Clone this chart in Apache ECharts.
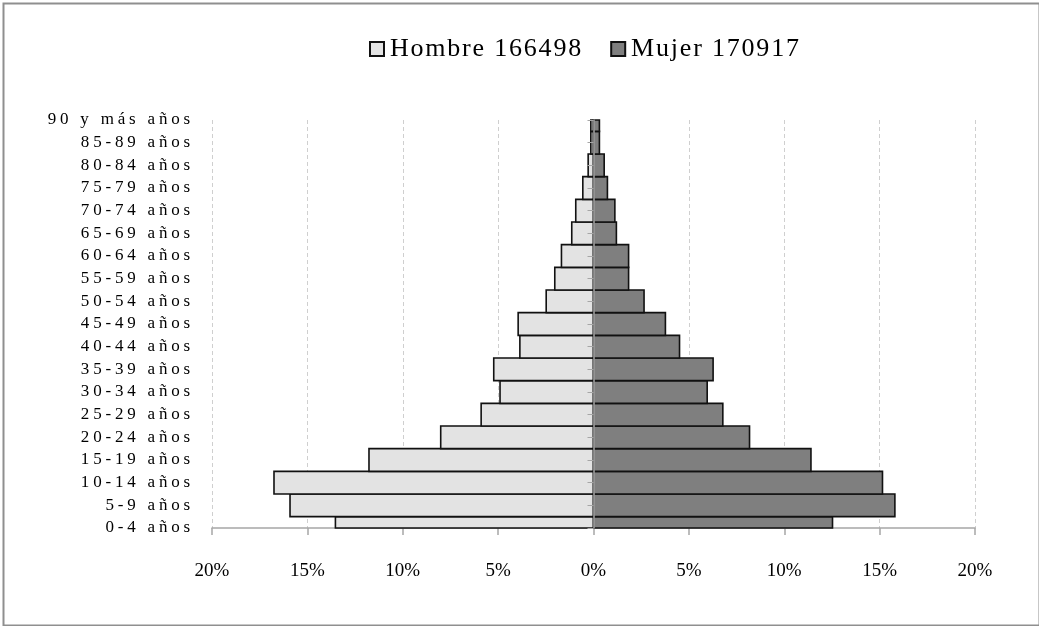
<!DOCTYPE html>
<html>
<head>
<meta charset="utf-8">
<script src="https://cdn.jsdelivr.net/npm/echarts@6/dist/echarts.min.js"></script>
<style>
  html, body { margin: 0; padding: 0; background: #fff; }
  #chart { width: 1039px; height: 626px; }
</style>
</head>
<body>
<div id="chart"></div>
<script>
// Age groups, youngest first (drawn bottom to top)
const ageGroups = [
  '0-4 años', '5-9 años', '10-14 años', '15-19 años', '20-24 años',
  '25-29 años', '30-34 años', '35-39 años', '40-44 años', '45-49 años',
  '50-54 años', '55-59 años', '60-64 años', '65-69 años', '70-74 años',
  '75-79 años', '80-84 años', '85-89 años', '90 y más años'
];

// Share of each sex's population per age group (%)
const hombrePct = [13.53, 15.91, 16.75, 11.77, 8.01, 5.89, 4.90, 5.23, 3.86, 3.95,
                   2.48, 2.03, 1.68, 1.14, 0.93, 0.56, 0.28, 0.14, 0.14];
const mujerPct  = [12.53, 15.80, 15.15, 11.40, 8.18, 6.78, 5.96, 6.27, 4.51, 3.77,
                   2.65, 1.84, 1.84, 1.20, 1.12, 0.73, 0.56, 0.31, 0.31];

const seriesNames = ['Hombre 166498', 'Mujer 170917'];

// Percentage axis range and step
const axisMin = -20;
const axisMax = 20;
const axisStep = 5;

// Wrap each character in a rich-text token so a per-character spacing style can be applied
function spaced(text, style) {
  return text.split('').map(function (c) { return '{' + style + '|' + c + '}'; }).join('');
}

const serif = '"Liberation Serif", "Times New Roman", serif';

// Horizontal bar centred on its category tick, clipped to the plot area
function renderPyramidBar(params, api) {
  const value = api.value(0);
  const idx = api.value(1);
  const start = api.coord([0, idx]);
  const end = api.coord([value, idx]);
  const h = api.size([0, 1])[1];
  const rect = echarts.graphic.clipRectByRect({
    x: Math.min(start[0], end[0]),
    y: start[1] - h / 2,
    width: Math.abs(end[0] - start[0]),
    height: h
  }, {
    x: params.coordSys.x,
    y: params.coordSys.y,
    width: params.coordSys.width,
    height: params.coordSys.height
  });
  if (!rect) return null;
  const style = api.style();
  return {
    type: 'rect',
    shape: rect,
    style: { fill: style.fill, stroke: '#111', lineWidth: 1.6 }
  };
}

const chart = echarts.init(document.getElementById('chart'), null, { renderer: 'canvas' });

chart.setOption({
  backgroundColor: '#ffffff',
  animation: false,
  graphic: [{
    type: 'rect',
    left: 1, top: 1,
    shape: { width: 1036, height: 622 },
    style: { fill: 'none', stroke: '#8f8f8f', lineWidth: 2 },
    silent: true
  }],
  legend: {
    left: 364,
    top: 31,
    itemWidth: 14,
    itemHeight: 14,
    itemGap: 29,
    icon: 'rect',
    data: seriesNames,
    formatter: function (name) { return spaced(name, 'l'); },
    textStyle: {
      color: '#000',
      fontFamily: serif,
      fontSize: 26,
      rich: {
        l: { fontFamily: serif, fontSize: 26, color: '#000', padding: [0, 0.9] }
      }
    }
  },
  grid: {
    left: 212,
    right: 64,
    top: 120,
    bottom: 98,
    containLabel: false
  },
  xAxis: {
    type: 'value',
    min: axisMin,
    max: axisMax,
    interval: axisStep,
    axisLine: { show: true, onZero: false, lineStyle: { color: '#a6a6a6', width: 1.5 } },
    axisTick: { show: true, length: 7, lineStyle: { color: '#a6a6a6', width: 1.5 } },
    splitLine: { show: true, lineStyle: { color: '#cfcfcf', type: [4, 3], width: 1 } },
    axisLabel: {
      margin: 34,
      color: '#000',
      fontFamily: serif,
      fontSize: 19,
      formatter: function (v) { return Math.abs(v) + '%'; }
    }
  },
  yAxis: [
    {
      // Category labels along the left edge
      type: 'category',
      data: ageGroups,
      boundaryGap: false,
      position: 'left',
      axisLine: { show: false, onZero: false },
      axisTick: { show: false },
      splitLine: { show: false },
      axisLabel: {
        margin: 20,
        interval: 0,
        color: '#000',
        fontFamily: serif,
        fontSize: 17,
        formatter: function (v) { return spaced(v, 'y'); },
        rich: {
          y: { fontFamily: serif, fontSize: 17, color: '#000', padding: [0, 1.9] }
        }
      }
    },
    {
      // Central axis line at 0 % with its tick marks
      type: 'category',
      data: ageGroups,
      boundaryGap: false,
      position: 'left',
      z: 5,
      axisLine: { show: true, onZero: true, lineStyle: { color: '#a6a6a6', width: 1.5 } },
      axisTick: { show: true, length: 6, interval: 0, lineStyle: { color: '#a6a6a6', width: 1 } },
      axisLabel: { show: false },
      splitLine: { show: false }
    }
  ],
  series: [
    {
      name: seriesNames[0],
      type: 'custom',
      yAxisIndex: 0,
      renderItem: renderPyramidBar,
      encode: { x: 0, y: 1 },
      data: hombrePct.map(function (v, i) { return [-v, i]; }),
      itemStyle: { color: '#e3e3e3', borderColor: '#111', borderWidth: 1 },
      z: 2
    },
    {
      name: seriesNames[1],
      type: 'custom',
      yAxisIndex: 0,
      renderItem: renderPyramidBar,
      encode: { x: 0, y: 1 },
      data: mujerPct.map(function (v, i) { return [v, i]; }),
      itemStyle: { color: '#7f7f7f', borderColor: '#111', borderWidth: 1 },
      z: 2
    }
  ]
});
</script>
</body>
</html>
